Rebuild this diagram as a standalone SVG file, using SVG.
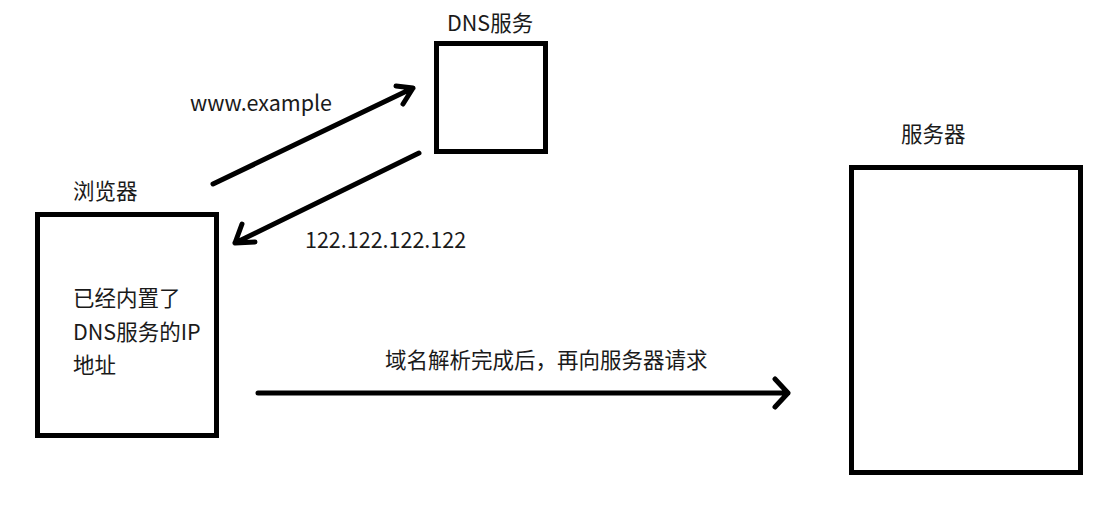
<svg xmlns="http://www.w3.org/2000/svg" width="1106" height="510" viewBox="0 0 1106 510">
<style>
.box{fill:#fff;stroke:#000;stroke-width:5}
.t{font-family:"Noto Sans CJK SC","Noto Sans",sans-serif;font-size:21.5px;fill:#1a1a1a}
.c{fill:none;stroke:#000;stroke-width:5;stroke-linecap:round;stroke-linejoin:round}
</style>
<rect width="1106" height="510" fill="#fff"/>
<g id="dns">
<rect class="box" x="436.5" y="43.5" width="109" height="108"/>
<text class="t" x="447" y="31">DNS服务</text>
</g>
<g id="browser">
<rect class="box" x="37.5" y="214.5" width="179" height="221"/>
<text class="t" x="73" y="199">浏览器</text>
<text class="t" x="73" y="306">已经内置了</text>
<text class="t" x="73" y="340">DNS服务的IP</text>
<text class="t" x="73" y="373">地址</text>
</g>
<g id="server">
<rect class="box" x="851.5" y="167.5" width="229" height="305"/>
<text class="t" x="901" y="142">服务器</text>
</g>
<g id="connectors">
<path class="c" d="M213,184 L413,88 M396,86 L413,88 L403,104"/>
<text class="t" x="190" y="111">www.example</text>
<path class="c" d="M419,153 L235,243 M242,224 L235,243 L255,242"/>
<text class="t" x="305" y="248">122.122.122.122</text>
<path class="c" d="M258,393 L788,393 M775,379 L788,393 L775,407"/>
<text class="t" x="385" y="368">域名解析完成后，再向服务器请求</text>
</g>
</svg>
